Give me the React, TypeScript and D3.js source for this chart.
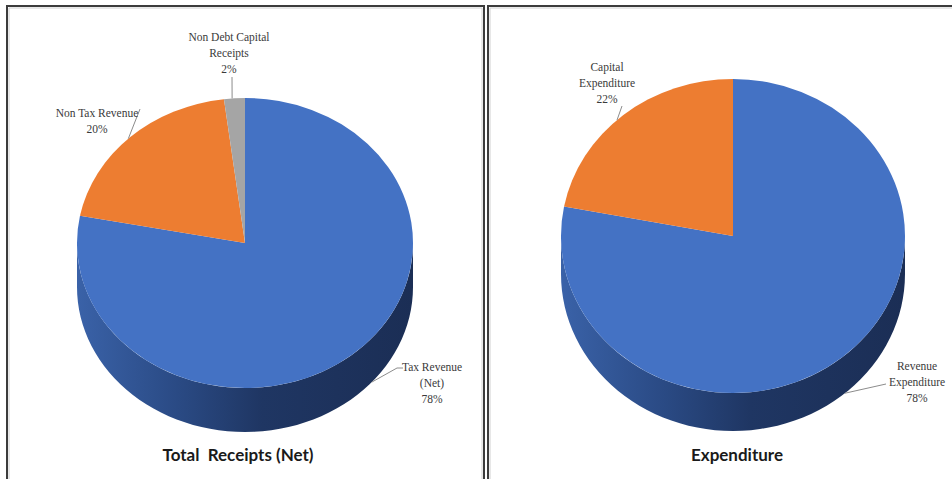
import React from 'react';
import * as d3 from 'd3';

// ---- data ----
const receiptCategories = ['Tax Revenue (Net)', 'Non Tax Revenue', 'Non Debt Capital Receipts'];
const receiptValues = [78, 20, 2];
const expenditureCategories = ['Revenue Expenditure', 'Capital Expenditure'];
const expenditureValues = [78, 22];
const chartTitles = ['Total  Receipts (Net)', 'Expenditure'];
const sliceColors = ['#4472C4', '#ED7D31', '#A5A5A5'];

// ---- layout ----
type LabelLayout = { x: number; y: number; lines: string[]; angle: number; drop: number; elbow: [number, number][] };
type PanelLayout = {
  cx: number; cy: number; rx: number; ry: number; depth: number;
  titleX: number; titleY: number; labels: LabelLayout[];
};

const panels: PanelLayout[] = [
  {
    cx: 245, cy: 243, rx: 168, ry: 145, depth: 44,
    titleX: 238, titleY: 461,
    labels: [
      { x: 432, y: 371, lines: ['Tax Revenue', '(Net)'], angle: 131, drop: 1, elbow: [[403, 368], [397, 368]] },
      { x: 97, y: 117, lines: ['Non Tax Revenue'], angle: 316, drop: 0, elbow: [[140, 109]] },
      { x: 229, y: 41, lines: ['Non Debt Capital', 'Receipts'], angle: 355.6, drop: 0, elbow: [[232, 77]] },
    ],
  },
  {
    cx: 733, cy: 236, rx: 172, ry: 157, depth: 38,
    titleX: 737, titleY: 461,
    labels: [
      { x: 917, y: 370, lines: ['Revenue', 'Expenditure'], angle: 139.4, drop: 1, elbow: [[886, 384]] },
      { x: 607, y: 71, lines: ['Capital', 'Expenditure'], angle: 317.6, drop: 0, elbow: [[622, 106]] },
    ],
  },
];

const lineH = 16;

function Pie3D({ p, values, idx }: { p: PanelLayout; values: number[]; idx: number }) {
  const arcs = d3.pie<number>().sort(null).startAngle(0).endAngle(2 * Math.PI)(values);
  const arcGen = d3.arc<d3.PieArcDatum<number>>().innerRadius(0).outerRadius(p.rx);
  const pt = (t: number, dy = 0): [number, number] => [p.cx + p.rx * Math.sin(t), p.cy - p.ry * Math.cos(t) + dy];
  const line = d3.line();
  const gradId = `side-grad-${idx}`;

  const sides = arcs.map((a, i) => {
    const s0 = Math.max(a.startAngle, Math.PI / 2);
    const s1 = Math.min(a.endAngle, (3 * Math.PI) / 2);
    if (s1 <= s0) return null;
    const ts = d3.range(0, 61).map((k) => s0 + ((s1 - s0) * k) / 60);
    const top = ts.map((t) => pt(t));
    const bot = ts.slice().reverse().map((t) => pt(t, p.depth));
    return <path key={`s${i}`} d={line([...top, ...bot]) + 'Z'} fill={`url(#${gradId}-${i})`} />;
  });

  const darkStops: Record<string, string[]> = {
    '#4472C4': ['#3a62a8', '#2a4a84', '#1f3663', '#1b2e55'],
    '#ED7D31': ['#c9651f', '#a65218', '#8a4313', '#7a3a10'],
    '#A5A5A5': ['#8c8c8c', '#777', '#666', '#5a5a5a'],
  };

  return (
    <g>
      <defs>
        {arcs.map((a, i) => {
          const st = darkStops[sliceColors[i]];
          return (
            <linearGradient key={i} id={`${gradId}-${i}`} gradientUnits="userSpaceOnUse" x1={p.cx - p.rx} x2={p.cx + p.rx} y1={0} y2={0}>
              <stop offset="0%" stopColor={st[0]} />
              <stop offset="30%" stopColor={st[1]} />
              <stop offset="55%" stopColor={st[2]} />
              <stop offset="100%" stopColor={st[3]} />
            </linearGradient>
          );
        })}
      </defs>
      {sides}
      <g transform={`translate(${p.cx},${p.cy}) scale(1,${p.ry / p.rx})`}>
        {arcs.map((a, i) => (
          <path key={i} d={arcGen(a) || ''} fill={sliceColors[i]} />
        ))}
      </g>
      {p.labels.map((lb, i) => {
        const end = pt((lb.angle * Math.PI) / 180, lb.drop * p.depth);
        const pts: [number, number][] = [...lb.elbow, end];
        const allLines = [...lb.lines, `${values[i]}%`];
        return (
          <g key={`l${i}`}>
            <path d={line(pts) || ''} fill="none" stroke="#8c8c8c" strokeWidth={1} />
            <text x={lb.x} y={lb.y} textAnchor="middle" fontFamily="'Liberation Serif', 'Times New Roman', serif" fontSize={11.5} fill="#3a3a3a">
              {allLines.map((t, k) => (
                <tspan key={k} x={lb.x} dy={k === 0 ? 0 : lineH}>{t}</tspan>
              ))}
            </text>
          </g>
        );
      })}
    </g>
  );
}

export default function App() {
  const datasets = [receiptValues, expenditureValues];
  void receiptCategories; void expenditureCategories;
  return (
    <svg width={952} height={479} style={{ position: 'absolute', left: 0, top: 0, background: '#fff' }}>
      <rect x={0} y={0} width={952} height={479} fill="#fff" />
      {/* panel frames */}
      <path d="M7,485 L7,6 L484,6 L484,485" fill="none" stroke="#3c3c3c" strokeWidth={2} />
      <path d="M9,485 L9,8 L482,8 L482,485" fill="none" stroke="#d0d0d0" strokeWidth={1} />
      <path d="M488,485 L488,6 L960,6" fill="none" stroke="#3c3c3c" strokeWidth={2} />
      <path d="M490,485 L490,8 L960,8" fill="none" stroke="#d0d0d0" strokeWidth={1} />
      {panels.map((p, i) => (
        <g key={i}>
          <Pie3D p={p} values={datasets[i]} idx={i} />
          <text x={p.titleX} y={p.titleY} textAnchor="middle" fontFamily="Lato, 'Open Sans', sans-serif" fontWeight="bold" fontSize={17} fill="#1a1a1a" style={{ whiteSpace: 'pre' }}>
            {chartTitles[i]}
          </text>
        </g>
      ))}
    </svg>
  );
}
